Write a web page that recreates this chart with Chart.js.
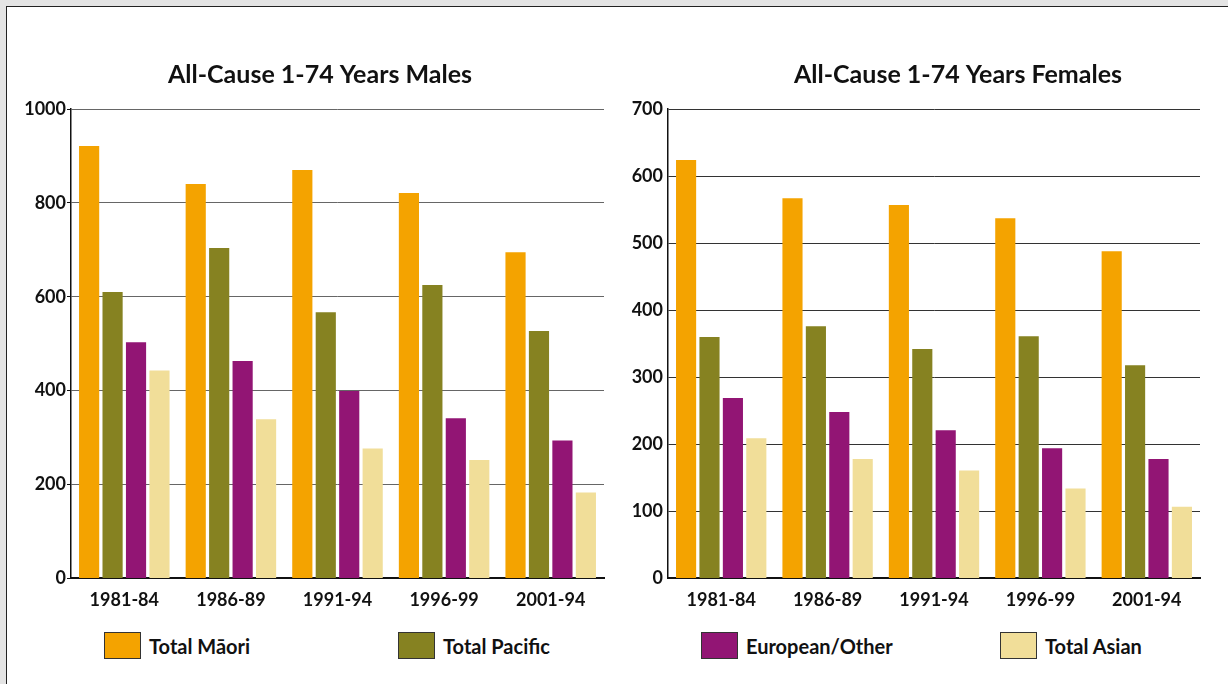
<!DOCTYPE html>
<html>
<head>
<meta charset="utf-8">
<script src="https://cdn.jsdelivr.net/npm/chart.js@4/dist/chart.umd.min.js"></script>
<style>
  html, body { margin: 0; padding: 0; }
  body { width: 1228px; height: 684px; background: #e4e4e4; overflow: hidden; position: relative; font-family: Lato, sans-serif; }
  #panel { position: absolute; left: 6px; top: 6px; width: 1300px; height: 700px; background: #fff; border-top: 1px solid #222; border-left: 1px solid #222; }
  .box { position: absolute; top: 0; }
  #legend { position: absolute; left: 0; top: 632px; width: 1228px; height: 30px; }
  .item { position: absolute; top: 0; display: flex; align-items: center; font-weight: bold; font-size: 20px; color: #111; }
  .swatch { width: 35px; height: 25px; border: 1px solid #333; margin-right: 8px; }
</style>
</head>
<body>
<div id="panel"></div>
<div class="box" style="left:0;width:640px;height:618px;"><canvas id="males"></canvas></div>
<div class="box" style="left:620px;width:676px;height:618px;"><canvas id="females"></canvas></div>
<div id="legend"></div>
<script>
// periods along the x axis (labels as printed in the source)
const periods = ["1981-84", "1986-89", "1991-94", "1996-99", "2001-94"];
const groups = ["Total Māori", "Total Pacific", "European/Other", "Total Asian"];
const groupColours = ["#f4a300", "#868221", "#921574", "#f1de99"];

// males, rate per 100,000
const malesMaori    = [921, 840, 870, 821, 695];
const malesPacific  = [610, 704, 567, 625, 527];
const malesEuropean = [503, 463, 399, 341, 294];
const malesAsian    = [443, 339, 277, 252, 183];

// females, rate per 100,000
const femalesMaori    = [624, 567, 557, 537, 488];
const femalesPacific  = [360, 376, 342, 361, 318];
const femalesEuropean = [269, 248, 221, 194, 178];
const femalesAsian    = [209, 178, 161, 134, 107];

const malesTicks = [0, 200, 400, 600, 800, 1000];
const femalesTicks = [0, 100, 200, 300, 400, 500, 600, 700];

function makeDatasets(series) {
    return series.map((vals, i) => ({
        label: groups[i],
        data: vals,
        backgroundColor: groupColours[i],
        borderWidth: 0,
        categoryPercentage: 0.88,
        barPercentage: 0.86
    }));
}

// axisWidth = room left of the plot, spacer = empty room right of it
// (the spacer axis keeps the title centred where the original has it)
function makeChart(id, title, series, ticks, axisWidth, spacer, gridColour, tickLen) {
    const ctx = document.getElementById(id).getContext('2d');
    return new Chart(ctx, {
        type: 'bar',
        data: { labels: periods, datasets: makeDatasets(series) },
        options: {
            responsive: true,
            maintainAspectRatio: false,
            animation: false,
            layout: { padding: { left: 0, right: 0, top: 0, bottom: 4 } },
            plugins: {
                legend: { display: false },
                tooltip: { enabled: false },
                title: {
                    display: true,
                    text: title,
                    color: '#111',
                    font: { family: 'Lato', size: 25, weight: 'bold' },
                    padding: { top: 60, bottom: 19 }
                }
            },
            scales: {
                x: {
                    grid: { display: false },
                    border: { color: '#111', width: 2 },
                    ticks: { color: '#111', padding: 3, font: { family: 'Lato', size: 18, weight: 'bold' } }
                },
                y: {
                    min: ticks[0],
                    max: ticks[ticks.length - 1],
                    afterBuildTicks: (scale) => { scale.ticks = ticks.map(v => ({ value: v })); },
                    afterFit: (scale) => { scale.width = axisWidth; },
                    grid: { color: gridColour, lineWidth: 1, tickLength: tickLen, tickColor: '#111' },
                    border: { color: '#111', width: 1.5 },
                    ticks: {
                        color: '#111', padding: 5 - tickLen,
                        font: { family: 'Lato', size: 18, weight: 'bold' },
                        callback: (v) => String(v)
                    }
                },
                spacer: {
                    type: 'linear',
                    position: 'right',
                    grid: { display: false },
                    border: { display: false },
                    ticks: { display: false },
                    afterFit: (scale) => { scale.width = spacer; }
                }
            }
        }
    });
}

makeChart('males', 'All-Cause 1-74 Years Males',
    [malesMaori, malesPacific, malesEuropean, malesAsian], malesTicks, 71, 36, '#666', 4);
makeChart('females', 'All-Cause 1-74 Years Females',
    [femalesMaori, femalesPacific, femalesEuropean, femalesAsian], femalesTicks, 48, 96, '#333', 0);

// shared legend underneath both charts
const legendLeft = [104, 398, 701, 1000];
const legend = document.getElementById('legend');
groups.forEach((g, i) => {
    const item = document.createElement('div');
    item.className = 'item';
    item.style.left = legendLeft[i] + 'px';
    item.innerHTML = '<span class="swatch" style="background:' + groupColours[i] + '"></span>' + g;
    legend.appendChild(item);
});
</script>
</body>
</html>
